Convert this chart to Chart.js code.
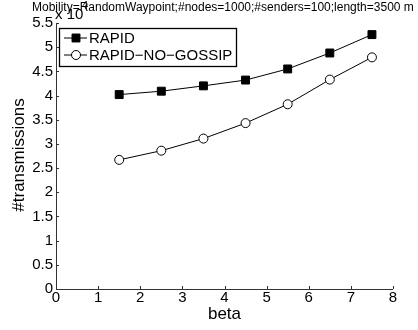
<!DOCTYPE html>
<html>
<head>
<meta charset="utf-8">
<script src="https://cdn.jsdelivr.net/npm/chart.js@4/dist/chart.umd.min.js"></script>
<style>
  html, body { margin: 0; padding: 0; background: #fff; }
  #wrap { width: 418px; height: 330px; }
</style>
</head>
<body>
<div id="wrap"><canvas id="chart" width="418" height="330"></canvas></div>
<script>
// values, in units of 10^4
const betas = [1.5, 2.5, 3.5, 4.5, 5.5, 6.5, 7.5];
const rapid = [4.02, 4.09, 4.20, 4.32, 4.55, 4.88, 5.26];
const rapidNoGossip = [2.67, 2.86, 3.11, 3.43, 3.82, 4.33, 4.79];
const seriesNames = ["RAPID", "RAPID\u2212NO\u2212GOSSIP"];

const titleText = "Mobility=RandomWaypoint;#nodes=1000;#senders=100;length=3500 m";
const xTitle = "beta";
const yTitle = "#transmissions";

const FONT = "'Liberation Sans', Arial, sans-serif";

function toPoints(xs, ys) {
    return xs.map((x, i) => ({ x: x, y: ys[i] }));
}

// axes, inward ticks, texts and the boxed legend
const decorPlugin = {
    id: "decor",
    afterDraw(chart) {
        const ctx = chart.ctx;
        const xs = chart.scales.x;
        const ys = chart.scales.y;
        const area = chart.chartArea;

        ctx.save();
        ctx.strokeStyle = "#333";
        ctx.lineWidth = 1;
        ctx.beginPath();
        ctx.moveTo(area.left + 0.5, area.top);
        ctx.lineTo(area.left + 0.5, area.bottom + 0.5);
        ctx.lineTo(area.right, area.bottom + 0.5);
        xs.ticks.forEach(t => {
            const px = Math.round(xs.getPixelForValue(t.value)) + 0.5;
            ctx.moveTo(px, area.bottom);
            ctx.lineTo(px, area.bottom - 3);
        });
        ys.ticks.forEach(t => {
            const py = Math.round(ys.getPixelForValue(t.value)) + 0.5;
            ctx.moveTo(area.left, py);
            ctx.lineTo(area.left + 3, py);
        });
        ctx.stroke();

        ctx.fillStyle = "#000";
        ctx.textBaseline = "middle";

        // exponent marker
        ctx.font = "15px " + FONT;
        ctx.textAlign = "left";
        ctx.fillText("x 10", 55, 15);
        ctx.font = "11px " + FONT;
        ctx.fillText("4", 82, 6);

        // title
        ctx.font = "12px " + FONT;
        ctx.fillText(titleText, 32, 8);

        // axis titles
        ctx.font = "17px " + FONT;
        ctx.textAlign = "center";
        ctx.fillText(xTitle, (area.left + area.right) / 2, 314);
        ctx.save();
        ctx.translate(19, 155);
        ctx.rotate(-Math.PI / 2);
        ctx.fillText(yTitle, 0, 0);
        ctx.restore();

        // legend
        const lx = 59, ly = 28, lw = 177, lh = 38;
        ctx.fillStyle = "#fff";
        ctx.fillRect(lx, ly, lw, lh);
        ctx.strokeStyle = "#000";
        ctx.lineWidth = 1.3;
        ctx.strokeRect(lx + 0.5, ly + 0.5, lw, lh);
        ctx.font = "15px " + FONT;
        ctx.textAlign = "left";
        chart.data.datasets.forEach((ds, i) => {
            const rowY = ly + 10 + i * 17;
            ctx.strokeStyle = ds.borderColor;
            ctx.lineWidth = 1;
            ctx.beginPath();
            ctx.moveTo(64, rowY);
            ctx.lineTo(87, rowY);
            ctx.stroke();
            ctx.fillStyle = ds.pointBackgroundColor;
            ctx.strokeStyle = ds.pointBorderColor;
            Chart.helpers.drawPoint(ctx, {
                pointStyle: ds.pointStyle,
                radius: ds.pointRadius,
                borderWidth: 1
            }, 76, rowY);
            ctx.fillStyle = "#000";
            ctx.fillText(ds.label, 89, rowY + 1);
        });
        ctx.restore();
    }
};

const chart = new Chart(document.getElementById("chart"), {
    type: "line",
    data: {
        datasets: [{
            label: seriesNames[0],
            data: toPoints(betas, rapid),
            borderColor: "#000",
            borderWidth: 1,
            pointStyle: "rect",
            pointRadius: 5.6,
            pointBackgroundColor: "#000",
            pointBorderColor: "#000",
            pointBorderWidth: 1,
            fill: false,
            tension: 0
        }, {
            label: seriesNames[1],
            data: toPoints(betas, rapidNoGossip),
            borderColor: "#000",
            borderWidth: 1,
            pointStyle: "circle",
            pointRadius: 4.5,
            pointBackgroundColor: "#fff",
            pointBorderColor: "#000",
            pointBorderWidth: 1,
            fill: false,
            tension: 0
        }]
    },
    options: {
        responsive: false,
        animation: false,
        layout: { padding: { top: 23, right: 25, left: 0, bottom: 0 } },
        plugins: {
            legend: { display: false },
            title: { display: false },
            tooltip: { enabled: false }
        },
        scales: {
            x: {
                type: "linear",
                min: 0,
                max: 8,
                ticks: { stepSize: 1, color: "#000", padding: 0, maxRotation: 0,
                         font: { family: FONT, size: 15 } },
                grid: { display: false, drawTicks: false },
                border: { display: false },
                afterFit(scale) { scale.height = 41; }
            },
            y: {
                min: 0,
                max: 5.5,
                ticks: { stepSize: 0.5, color: "#000", padding: 3,
                         font: { family: FONT, size: 15 },
                         callback: v => String(Math.round(v * 10) / 10) },
                grid: { display: false, drawTicks: false },
                border: { display: false },
                afterFit(scale) { scale.width = 56; }
            }
        }
    },
    plugins: [decorPlugin]
});
</script>
</body>
</html>
